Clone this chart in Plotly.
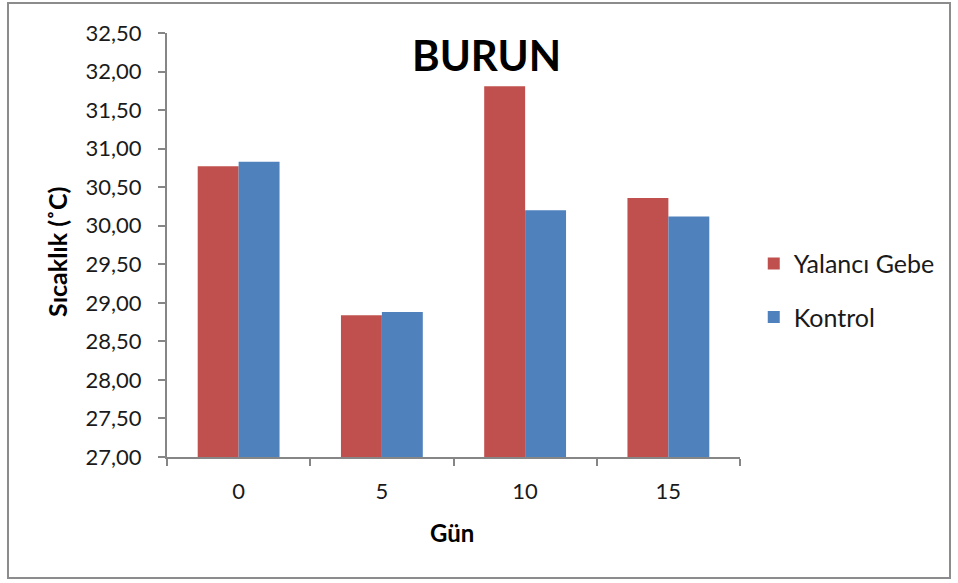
import plotly.graph_objects as go

days = ["0", "5", "10", "15"]
yalanci_gebe = [30.77, 28.84, 31.81, 30.36]
kontrol = [30.83, 28.88, 30.20, 30.12]
y_ticks = [27.0 + 0.5 * i for i in range(12)]

FONT = "Lato, 'Open Sans', sans-serif"
AXIS_GRAY = "#868686"
TEXT = "#1a1a1a"

fig = go.Figure()
fig.add_trace(go.Bar(x=days, y=yalanci_gebe, name="Yalancı Gebe",
                     marker=dict(color="#C0504D", line=dict(width=0)),
                     legendgroup="a"))
fig.add_trace(go.Bar(x=days, y=kontrol, name="Kontrol",
                     marker=dict(color="#4F81BD", line=dict(width=0)),
                     legendgroup="b"))

fig.update_layout(
    width=958, height=583,
    margin=dict(l=167, r=218, t=33, b=126),
    paper_bgcolor="white", plot_bgcolor="white",
    separators=",.",
    barmode="group", bargap=0.4286, bargroupgap=0,
    font=dict(family=FONT, size=22, color=TEXT),
    showlegend=True,
    legend=dict(x=1.024, y=0.393, xanchor="left", yanchor="middle",
                traceorder="grouped", tracegroupgap=18,
                font=dict(family=FONT, size=25, color=TEXT),
                itemwidth=30),
    xaxis=dict(type="category", showline=True, linecolor=AXIS_GRAY, linewidth=2,
               ticks="outside", tickson="boundaries", ticklen=7,
               tickcolor=AXIS_GRAY, tickwidth=2, showgrid=False,
               tickfont=dict(size=22), ticklabelstandoff=14),
    yaxis=dict(range=[27, 32.5], tickvals=y_ticks, tickformat=".2f",
               showline=True, linecolor=AXIS_GRAY, linewidth=2,
               ticks="outside", ticklen=7, tickcolor=AXIS_GRAY, tickwidth=2,
               showgrid=False, zeroline=False, tickfont=dict(size=22),
               ticklabelstandoff=12),
    annotations=[
        dict(text="<b>BURUN</b>", xref="paper", yref="paper",
             x=0.558, y=0.948, xanchor="center", yanchor="middle",
             showarrow=False, font=dict(family=FONT, size=42, color="black")),
        dict(text="<b>Gün</b>", xref="paper", yref="paper",
             x=0.498, y=-0.179, xanchor="center", yanchor="middle",
             showarrow=False, font=dict(family=FONT, size=24, color="black")),
        dict(text="<b>Sıcaklık (˚C)</b>", xref="paper", yref="paper",
             x=-0.192, y=0.4835, xanchor="center", yanchor="middle",
             textangle=-90, showarrow=False,
             font=dict(family=FONT, size=25, color="black")),
    ],
    shapes=[dict(type="rect", xref="paper", yref="paper",
                 x0=-0.2775, x1=1.3665, y0=-0.2854, y1=1.0708,
                 line=dict(color="#8C8C8C", width=2), fillcolor="rgba(0,0,0,0)",
                 layer="below")],
)

fig.write_html("out.html")
